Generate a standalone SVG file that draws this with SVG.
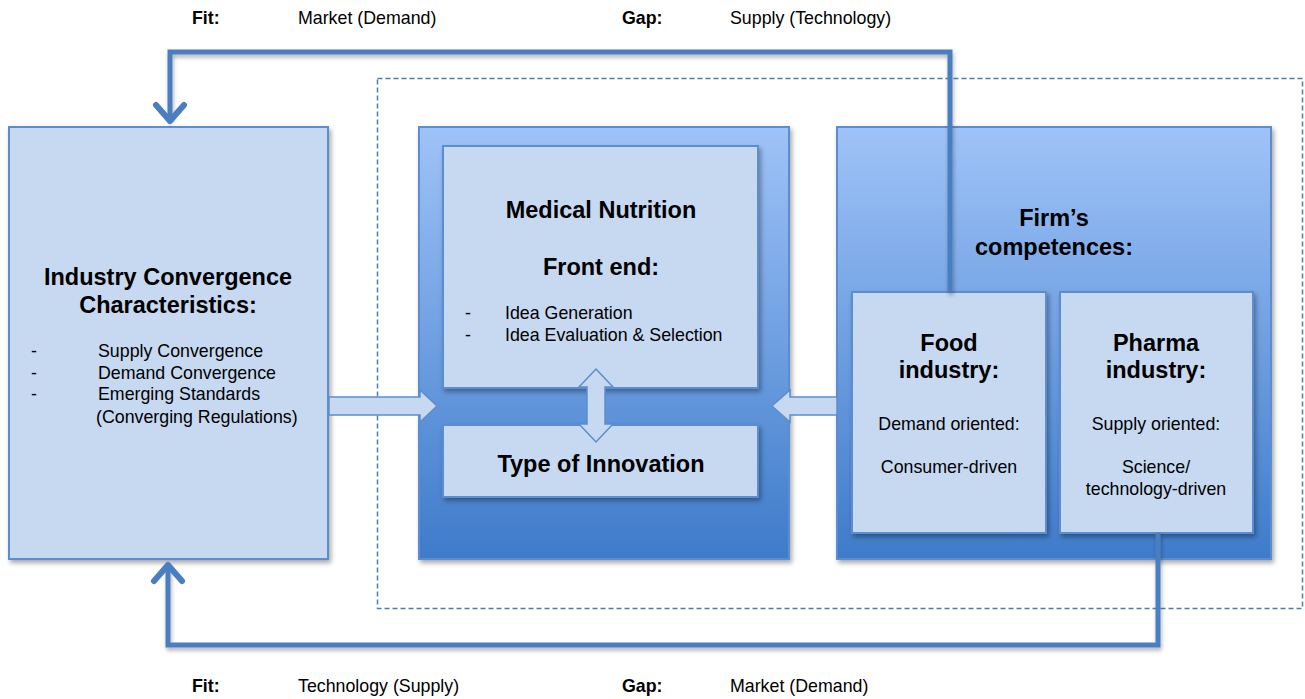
<svg xmlns="http://www.w3.org/2000/svg" width="1305" height="699" viewBox="0 0 1305 699">
<defs>
<linearGradient id="blueGrad" x1="0" y1="0" x2="0" y2="1">
<stop offset="0" stop-color="#9fc3f8"/>
<stop offset="1" stop-color="#3e7bca"/>
</linearGradient>
<filter id="sh" x="-10%" y="-10%" width="130%" height="130%">
<feDropShadow dx="2" dy="3" stdDeviation="2.5" flood-color="#000" flood-opacity="0.35"/>
</filter>
<filter id="lsh" x="-5%" y="-5%" width="110%" height="120%">
<feDropShadow dx="1" dy="3" stdDeviation="2" flood-color="#000" flood-opacity="0.3"/>
</filter>
</defs>
<style>
.light{fill:#c6d9f0;stroke:#5b8dd0;stroke-width:2}
.outer{fill:url(#blueGrad);stroke:#5b8dd0;stroke-width:2}
.conn{fill:none;stroke:#4a7ec0;stroke-width:5;stroke-linejoin:miter}
.head{fill:none;stroke:#4a7ec0;stroke-width:6;stroke-linecap:round;stroke-linejoin:round}
.blk{fill:#c6d9f0;stroke:#5b8dd0;stroke-width:1.5}
text{font-family:"Liberation Sans",Arial,sans-serif;fill:#000}
.b{font-weight:bold;font-size:23.5px}
.n{font-size:17.8px}
.lbl{font-size:17.8px}
.lblb{font-size:17.8px;font-weight:bold}
</style>
<rect width="1305" height="699" fill="#fff"/>

<g id="labels">
<text class="lblb" x="192" y="24">Fit:</text>
<text class="lbl" x="298" y="24">Market (Demand)</text>
<text class="lblb" x="622" y="24">Gap:</text>
<text class="lbl" x="730" y="24">Supply (Technology)</text>
<text class="lblb" x="192" y="692">Fit:</text>
<text class="lbl" x="298" y="692">Technology (Supply)</text>
<text class="lblb" x="622" y="692">Gap:</text>
<text class="lbl" x="730" y="692">Market (Demand)</text>
</g>

<g id="boundary">
<rect x="377.5" y="78.5" width="925" height="530" fill="none" stroke="#4a7ec0" stroke-width="1.5" stroke-dasharray="5,3"/>
</g>

<g id="industry-convergence">
<rect class="light" x="9" y="127" width="319" height="432" filter="url(#sh)"/>
<text class="b" text-anchor="middle" x="168" y="285">Industry Convergence</text>
<text class="b" text-anchor="middle" x="168" y="313">Characteristics:</text>
<text class="n" x="31" y="357">-</text>
<text class="n" x="98" y="357">Supply Convergence</text>
<text class="n" x="31" y="379">-</text>
<text class="n" x="98" y="379">Demand Convergence</text>
<text class="n" x="31" y="400">-</text>
<text class="n" x="98" y="400">Emerging Standards</text>
<text class="n" x="96" y="423">(Converging Regulations)</text>
</g>

<g id="medical-nutrition">
<rect class="outer" x="419" y="127" width="370" height="432" filter="url(#sh)"/>
<g id="front-end">
<rect class="light" x="443" y="146" width="315" height="242" filter="url(#sh)"/>
<text class="b" text-anchor="middle" x="601" y="218">Medical Nutrition</text>
<text class="b" text-anchor="middle" x="601" y="275">Front end:</text>
<text class="n" x="465" y="319">-</text>
<text class="n" x="505" y="319">Idea Generation</text>
<text class="n" x="465" y="341">-</text>
<text class="n" x="505" y="341">Idea Evaluation &amp; Selection</text>
</g>
<g id="type-of-innovation">
<rect class="light" x="443" y="425" width="315" height="72" filter="url(#sh)"/>
<text class="b" text-anchor="middle" x="601" y="472">Type of Innovation</text>
</g>
</g>

<g id="firm-competences">
<rect class="outer" x="837" y="127" width="434" height="432" filter="url(#sh)"/>
<text class="b" text-anchor="middle" x="1054" y="226">Firm’s</text>
<text class="b" text-anchor="middle" x="1054" y="255">competences:</text>
<g id="food-industry">
<rect class="light" x="852" y="292" width="194" height="241" filter="url(#sh)"/>
<text class="b" text-anchor="middle" x="949" y="351">Food</text>
<text class="b" text-anchor="middle" x="949" y="378">industry:</text>
<text class="n" text-anchor="middle" x="949" y="430">Demand oriented:</text>
<text class="n" text-anchor="middle" x="949" y="473">Consumer-driven</text>
</g>
<g id="pharma-industry">
<rect class="light" x="1060" y="292" width="193" height="241" filter="url(#sh)"/>
<text class="b" text-anchor="middle" x="1156" y="351">Pharma</text>
<text class="b" text-anchor="middle" x="1156" y="378">industry:</text>
<text class="n" text-anchor="middle" x="1156" y="430">Supply oriented:</text>
<text class="n" text-anchor="middle" x="1156" y="473">Science/</text>
<text class="n" text-anchor="middle" x="1156" y="495">technology-driven</text>
</g>
</g>

<g id="connectors">
<path class="conn" d="M950,292 V52 H170 V120" filter="url(#lsh)"/>
<path class="head" d="M156,105 L170,121 L184,105"/>
<path class="conn" d="M1158,533 V645 H168 V566" filter="url(#lsh)"/>
<path class="head" d="M154,581 L168,565 L182,581"/>
<path class="blk" d="M329,397 H420 V390 L437,406 L420,422 V415 H329 Z"/>
<path class="blk" d="M837,397 H790 V390 L772,406 L790,422 V415 H837 Z"/>
<path class="blk" d="M596,369 L613,387 H605 V424 H613 L596,442 L579,424 H587 V387 H579 Z"/>
</g>
</svg>
